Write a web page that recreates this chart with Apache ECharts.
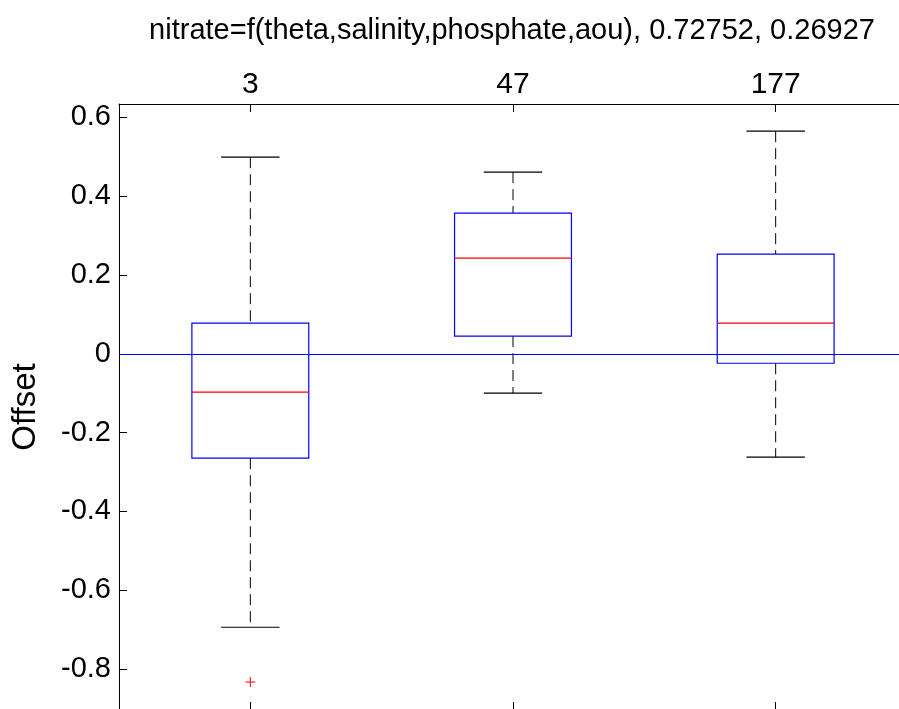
<!DOCTYPE html>
<html>
<head>
<meta charset="utf-8">
<script src="https://cdn.jsdelivr.net/npm/echarts@6/dist/echarts.min.js"></script>
<style>
  html, body { margin: 0; padding: 0; overflow: hidden; background: #fff; }
  #chart { width: 908px; height: 712px; }
</style>
</head>
<body>
<div id="chart"></div>
<script>
var categories = ["3", "47", "177"];
// box statistics per group
var boxLow = [-0.694, -0.100, -0.262];
var boxQ1 = [-0.265, 0.045, -0.024];
var boxMedian = [-0.097, 0.243, 0.078];
var boxQ3 = [0.078, 0.357, 0.253];
var boxHigh = [0.499, 0.461, 0.565];
var outliers = [[0, -0.833]];
var yTicks = [-0.8, -0.6, -0.4, -0.2, 0, 0.2, 0.4, 0.6];
var yMin = -0.904, yMax = 0.634;

var fontName = "Liberation Sans";

var boxData = categories.map(function (c, i) {
  return [i, boxLow[i], boxQ1[i], boxMedian[i], boxQ3[i], boxHigh[i]];
});

function renderBox(params, api) {
  var x = api.value(0);
  var band = api.size([1, 0])[0];
  var half = band * 0.445 / 2;
  var capHalf = half / 2;
  var low = api.coord([x, api.value(1)]);
  var q1 = api.coord([x, api.value(2)]);
  var med = api.coord([x, api.value(3)]);
  var q3 = api.coord([x, api.value(4)]);
  var high = api.coord([x, api.value(5)]);
  var cx = low[0];
  var dash = { stroke: "#000", lineWidth: 1, lineDash: [11, 6] };
  var solidBlack = { stroke: "#000", lineWidth: 1.2 };
  return {
    type: "group",
    children: [
      { type: "line", shape: { x1: cx, y1: high[1], x2: cx, y2: q3[1] }, style: dash },
      { type: "line", shape: { x1: cx, y1: q1[1], x2: cx, y2: low[1] }, style: dash },
      { type: "line", shape: { x1: cx - capHalf, y1: high[1], x2: cx + capHalf, y2: high[1] }, style: solidBlack },
      { type: "line", shape: { x1: cx - capHalf, y1: low[1], x2: cx + capHalf, y2: low[1] }, style: solidBlack },
      {
        type: "rect",
        shape: { x: cx - half, y: q3[1], width: half * 2, height: q1[1] - q3[1] },
        style: { fill: "none", stroke: "#0000ff", lineWidth: 1.2 }
      },
      { type: "line", shape: { x1: cx - half, y1: med[1], x2: cx + half, y2: med[1] }, style: { stroke: "#ff0000", lineWidth: 1.2 } }
    ]
  };
}

function renderOutlier(params, api) {
  var p = api.coord([api.value(0), api.value(1)]);
  var s = 5;
  var st = { stroke: "#ff0000", lineWidth: 1 };
  return {
    type: "group",
    children: [
      { type: "line", shape: { x1: p[0] - s, y1: p[1], x2: p[0] + s, y2: p[1] }, style: st },
      { type: "line", shape: { x1: p[0], y1: p[1] - s, x2: p[0], y2: p[1] + s }, style: st }
    ]
  };
}

var chart = echarts.init(document.getElementById("chart"));

var tickFormatter = function (v) {
  return String(Math.round(v * 10) / 10);
};

chart.setOption({
  animation: false,
  backgroundColor: "#fff",
  title: {
    text: "nitrate=f(theta,salinity,phosphate,aou), 0.72752, 0.26927",
    left: 507,
    top: 11,
    textAlign: "center",
    textStyle: { fontFamily: fontName, fontSize: 29, fontWeight: "normal", color: "#000" }
  },
  grid: { left: 119, right: 1, top: 104, bottom: 2 },
  xAxis: [
    {
      type: "category",
      data: categories,
      position: "top",
      boundaryGap: true,
      axisLine: { show: true, onZero: false, lineStyle: { color: "#000", width: 1 } },
      axisTick: { show: true, inside: true, alignWithLabel: true, length: 8, lineStyle: { color: "#000" } },
      axisLabel: { show: true, margin: 4, color: "#000", fontFamily: fontName, fontSize: 30 },
      splitLine: { show: false }
    },
    {
      type: "category",
      data: categories,
      position: "bottom",
      boundaryGap: true,
      axisLine: { show: true, onZero: false, lineStyle: { color: "#000", width: 1 } },
      axisTick: { show: true, inside: true, alignWithLabel: true, length: 8, lineStyle: { color: "#000" } },
      axisLabel: { show: false },
      splitLine: { show: false }
    }
  ],
  yAxis: [
    {
      type: "value",
      min: yMin,
      max: yMax,
      position: "left",
      name: "Offset",
      nameLocation: "middle",
      nameRotate: 90,
      nameGap: 77,
      nameTextStyle: { fontFamily: fontName, fontSize: 33, color: "#000" },
      axisLine: { show: true, onZero: false, lineStyle: { color: "#000", width: 1 } },
      axisTick: { show: true, inside: true, length: 8, customValues: yTicks, lineStyle: { color: "#000" } },
      axisLabel: { show: true, margin: 8, customValues: yTicks, formatter: tickFormatter, color: "#000", fontFamily: fontName, fontSize: 29 },
      splitLine: { show: false }
    },
    {
      type: "value",
      min: yMin,
      max: yMax,
      position: "right",
      axisLine: { show: true, onZero: false, lineStyle: { color: "#000", width: 1 } },
      axisTick: { show: true, inside: true, length: 8, customValues: yTicks, lineStyle: { color: "#000" } },
      axisLabel: { show: false },
      splitLine: { show: false }
    }
  ],
  series: [
    {
      type: "custom",
      xAxisIndex: 0,
      yAxisIndex: 0,
      renderItem: renderBox,
      data: boxData,
      silent: true,
      z: 3,
      markLine: {
        silent: true,
        symbol: "none",
        label: { show: false },
        lineStyle: { color: "#0000ff", type: "solid", width: 1 },
        data: [{ yAxis: 0 }]
      }
    },
    {
      type: "custom",
      xAxisIndex: 0,
      yAxisIndex: 0,
      renderItem: renderOutlier,
      data: outliers,
      silent: true,
      z: 4
    }
  ]
});
</script>
</body>
</html>
